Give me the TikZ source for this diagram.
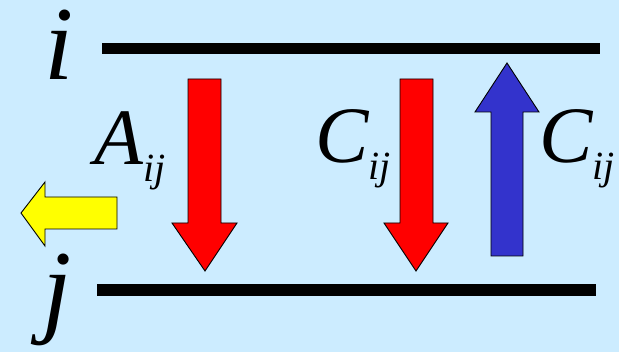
\documentclass[tikz,border=0pt]{standalone}
\usepackage{fontspec}
\setmainfont{Liberation Serif}
\definecolor{bgblue}{RGB}{204,236,255}
\definecolor{arrred}{RGB}{255,0,0}
\definecolor{arrblue}{RGB}{51,51,204}
\definecolor{arryellow}{RGB}{255,255,0}
\begin{document}
\begin{tikzpicture}[x=1pt,y=-1pt,
  level/.style={line width=11.5pt,black},
  fatarrow/.style={draw=black,line width=0.9pt,line join=miter},
  biglabel/.style={anchor=base west,inner sep=0pt,text height=70pt,text depth=22pt,font=\fontsize{105}{105}\selectfont\itshape},
  ratelabel/.style={anchor=base west,inner sep=0pt,font=\fontsize{80}{80}\selectfont\itshape}]
\fill[bgblue] (0,0) rectangle (619,352);
\useasboundingbox (0,0) rectangle (619,352);
% levels
\coordinate (ia) at (102,48.5);
\coordinate (ib) at (600,48.5);
\coordinate (ja) at (97,290);
\coordinate (jb) at (596,290);
\draw[level] (ia) -- (ib);
\draw[level] (ja) -- (jb);
\node[biglabel] (ilab) at (44,80) {i};
\node[biglabel] (jlab) at (42,324) {j};
% red arrow 1
\fill[arrred,fatarrow] (188,79) -- (221,79) -- (221,223) -- (237,223) -- (205,271) -- (172,223) -- (188,223) -- cycle;
% red arrow 2
\fill[arrred,fatarrow] (400,79) -- (433,79) -- (433,223) -- (448,223) -- (416,271) -- (384,223) -- (400,223) -- cycle;
% blue arrow
\fill[arrblue,fatarrow] (491,256) -- (523,256) -- (523,112) -- (539,112) -- (507,63) -- (475,112) -- (491,112) -- cycle;
% yellow arrow
\fill[arryellow,fatarrow] (117,197) -- (117,229) -- (45,229) -- (45,246) -- (21,213) -- (45,182) -- (45,197) -- cycle;
% labels
\node[ratelabel] (alab) at (94,165) {A\raisebox{-17pt}{\fontsize{40}{40}\selectfont ij}};
\node[ratelabel] (c1lab) at (315,163) {C\raisebox{-17pt}{\fontsize{40}{40}\selectfont ij}};
\node[ratelabel] (c2lab) at (539,163) {C\raisebox{-17pt}{\fontsize{40}{40}\selectfont ij}};
\end{tikzpicture}
\end{document}
